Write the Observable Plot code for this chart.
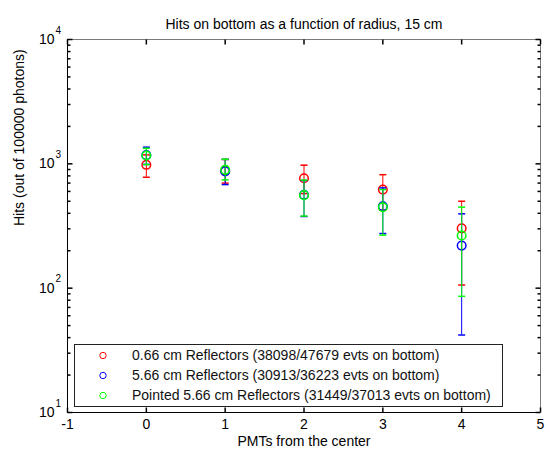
<!DOCTYPE html>
<html>
<head>
<meta charset="utf-8">
<script src="https://cdn.jsdelivr.net/npm/d3@7"></script>
<script src="https://cdn.jsdelivr.net/npm/@observablehq/plot@0.6"></script>
<style>
  html, body { margin: 0; padding: 0; background: #fff; }
  svg { display: block; }
</style>
</head>
<body>
<div id="chart"></div>
<script>
// ---------- data ----------
const pmts = [0, 1, 2, 3, 4];
const seriesNames = [
  "0.66 cm Reflectors (38098/47679 evts on bottom)",
  "5.66 cm Reflectors (30913/36223 evts on bottom)",
  "Pointed 5.66 cm Reflectors (31449/37013 evts on bottom)"
];
const redHits   = [982, 880, 766, 621, 303];
const redLow    = [780, 700, 577, 424, 106];
const redHigh   = [1180, 1085, 975, 818, 500];
const blueHits  = [1175, 870, 564, 456, 220];
const blueLow   = [990, 681, 377, 275, 42];
const blueHigh  = [1361, 1085, 735, 640, 396];
const greenHits = [1166, 895, 560, 448, 265];
const greenLow  = [986, 743, 380, 267, 86];
const greenHigh = [1334, 1089, 740, 621, 448];

const xTicks = [-1, 0, 1, 2, 3, 4, 5];
const yTicks = [10, 100, 1000, 10000];
const titleText = "Hits on bottom as a function of radius, 15 cm";
const xLabel = "PMTs from the center";
const yLabel = "Hits (out of 100000 photons)";

// ---------- build ----------
const colors = ["#ff0000", "#0000ff", "#00ff00"];
const raw = [[redHits, redLow, redHigh], [blueHits, blueLow, blueHigh], [greenHits, greenLow, greenHigh]];
const series = raw.map(([v, lo, hi], s) =>
  pmts.map((x, i) => ({x, v: v[i], lo: lo[i], hi: hi[i], s}))
);
const minorTicks = [];
for (let k = 0; k < yTicks.length - 1; k++)
  for (let m = 2; m <= 9; m++) minorTicks.push(yTicks[k] * m);

const line = (x1, y1, x2, y2) => ({draw(c) { c.moveTo(x1, y1); c.lineTo(x2, y2); }});
const tickUp = line(0, 0, 0, -5), tickDown = line(0, 0, 0, 5);
const tickRight = line(0, 0, 5, 0), tickLeft = line(0, 0, -5, 0);
const minorRight = line(0, 0, 3, 0), minorLeft = line(0, 0, -3, 0);
const cap = line(-3.5, 0, 3.5, 0);

const font = "'Liberation Sans', Arial, sans-serif";
const marks = [
  Plot.ruleY([10000], {stroke: "#7a7a7a"}),
  Plot.ruleX([5], {stroke: "#7a7a7a"}),
  Plot.ruleY([10], {stroke: "black"}),
  Plot.ruleX([-1], {stroke: "black"}),
  Plot.dot(xTicks, {x: d => d, frameAnchor: "bottom", symbol: tickUp, stroke: "black"}),
  Plot.dot(xTicks, {x: d => d, frameAnchor: "top", symbol: tickDown, stroke: "black"}),
  Plot.dot(yTicks, {y: d => d, frameAnchor: "left", symbol: tickRight, stroke: "black"}),
  Plot.dot(yTicks, {y: d => d, frameAnchor: "right", symbol: tickLeft, stroke: "black"}),
  Plot.dot(minorTicks, {y: d => d, frameAnchor: "left", symbol: minorRight, stroke: "black"}),
  Plot.dot(minorTicks, {y: d => d, frameAnchor: "right", symbol: minorLeft, stroke: "black"}),
  Plot.text(xTicks, {x: d => d, frameAnchor: "bottom", text: d => String(d), dy: 12, lineAnchor: "middle", fontSize: 14, fill: "black"}),
  Plot.text(yTicks, {y: d => d, frameAnchor: "left", text: () => "10", textAnchor: "end", dx: -13, lineAnchor: "middle", fontSize: 14, fill: "black"}),
  Plot.text(yTicks, {y: d => d, frameAnchor: "left", text: d => String(Math.round(Math.log10(d))), textAnchor: "start", dx: -12, dy: -9, lineAnchor: "middle", fontSize: 10, fill: "black"}),
  Plot.text([titleText], {frameAnchor: "top", text: d => d, dy: -15, lineAnchor: "middle", fontSize: 14, fill: "black"}),
  Plot.text([xLabel], {frameAnchor: "bottom", text: d => d, dy: 29, lineAnchor: "middle", fontSize: 14, fill: "black"}),
  Plot.text([yLabel], {frameAnchor: "left", text: d => d, dx: -48, rotate: -90, lineAnchor: "middle", fontSize: 14, fill: "black"})
];
series.forEach((data, s) => {
  marks.push(
    Plot.ruleX(data, {x: "x", y1: "lo", y2: "hi", stroke: colors[s]}),
    Plot.dot(data, {x: "x", y: "lo", symbol: cap, stroke: colors[s]}),
    Plot.dot(data, {x: "x", y: "hi", symbol: cap, stroke: colors[s]}),
    Plot.dot(data, {x: "x", y: "v", r: 4.3, stroke: colors[s], fill: "none"})
  );
});

const chart = Plot.plot({
  width: 550, height: 451,
  marginLeft: 67, marginRight: 10, marginTop: 39, marginBottom: 39,
  x: {domain: [-1, 5], axis: null},
  y: {type: "log", domain: [10, 10000], axis: null},
  style: {fontFamily: font, background: "white", color: "black"},
  marks
});
document.getElementById("chart").appendChild(chart);

// ---------- legend ----------
const svg = d3.select(chart);
const lg = svg.append("g").attr("font-family", font).attr("font-size", 14).attr("text-anchor", "start");
lg.append("rect").attr("x", 74.5).attr("y", 344.5).attr("width", 428).attr("height", 62)
  .attr("fill", "white").attr("stroke", "#222");
seriesNames.forEach((name, s) => {
  const cy = 355.5 + s * 20;
  lg.append("circle").attr("cx", 103).attr("cy", cy).attr("r", 3.2)
    .attr("fill", "none").attr("stroke", colors[s]);
  lg.append("text").attr("x", 132).attr("y", cy).attr("dy", "0.35em")
    .attr("text-anchor", "start").attr("fill", "#111").text(name);
});
</script>
</body>
</html>
